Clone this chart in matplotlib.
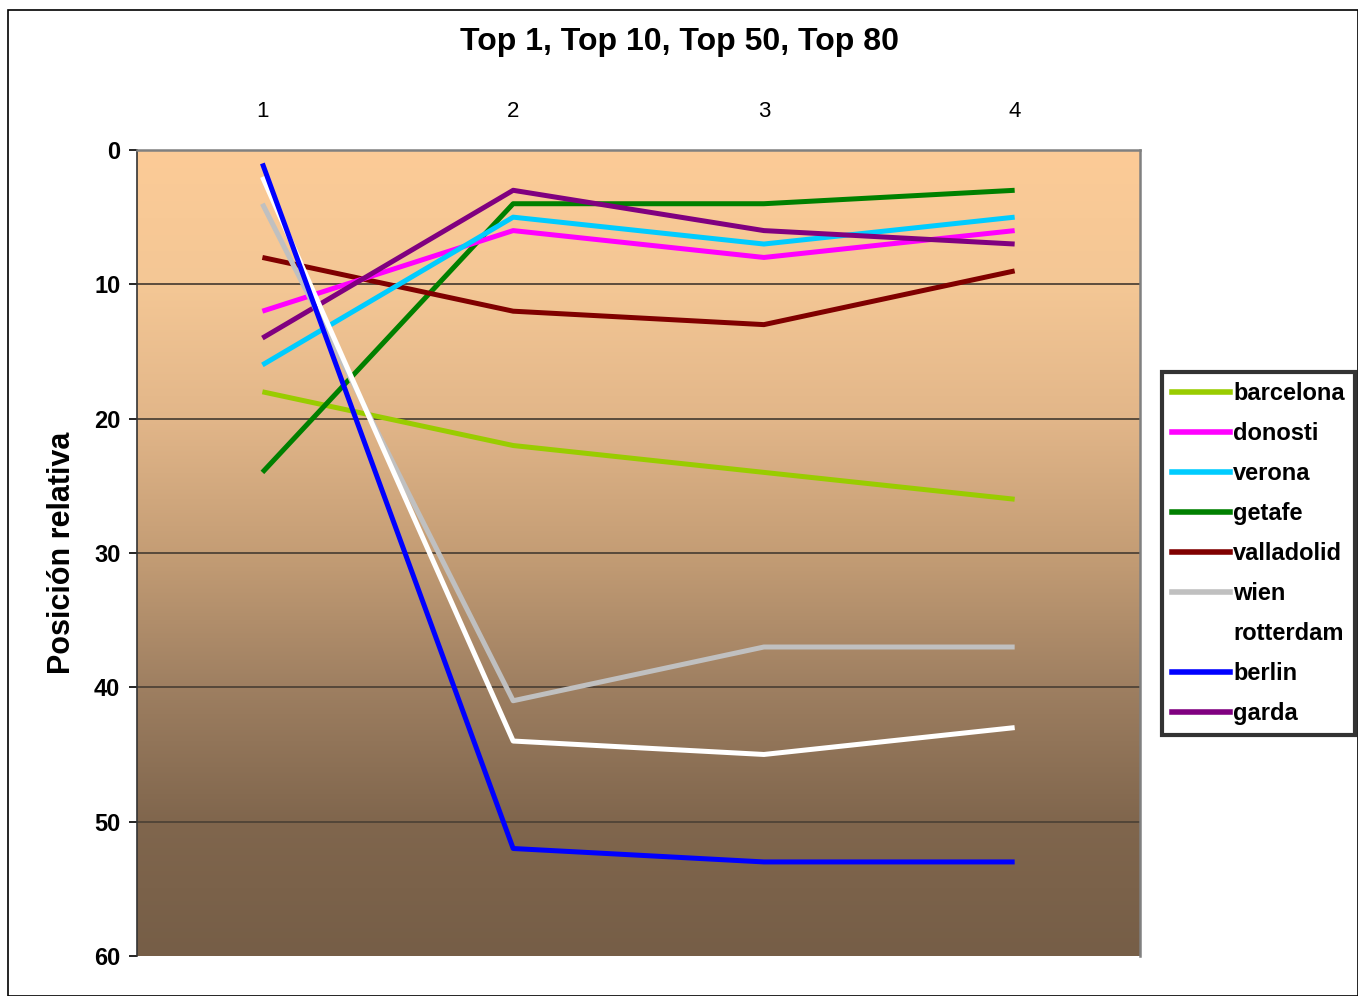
import numpy as np
import matplotlib
matplotlib.use("Agg")
from matplotlib import pyplot as plt
from matplotlib.patches import Rectangle

plt.rcParams['font.family'] = ['Liberation Sans', 'DejaVu Sans']

# data
steps = [1, 2, 3, 4]
barcelona = [18, 22, 24, 26]
donosti = [12, 6, 8, 6]
verona = [16, 5, 7, 5]
getafe = [24, 4, 4, 3]
valladolid = [8, 12, 13, 9]
wien = [4, 41, 37, 37]
rotterdam = [2, 44, 45, 43]
berlin = [1, 52, 53, 53]
garda = [14, 3, 6, 7]

series = [
    ("barcelona", barcelona, "#99CC00"),
    ("donosti", donosti, "#FF00FF"),
    ("verona", verona, "#00CCFF"),
    ("getafe", getafe, "#008000"),
    ("valladolid", valladolid, "#800000"),
    ("wien", wien, "#C0C0C0"),
    ("rotterdam", rotterdam, "#FFFFFF"),
    ("berlin", berlin, "#0000FF"),
    ("garda", garda, "#800080"),
]

fig = plt.figure(figsize=(13.58, 9.96), dpi=100)
ax = fig.add_axes([0.1009, 0.0402, 0.7386, 0.8092])

# background gradient, peach at top to brown at bottom (not linear)
stops = np.array([0, 10, 20, 30, 40, 50, 60]) / 60
stop_cols = np.array([
    [252, 203, 151],
    [244, 199, 149],
    [226, 182, 137],
    [196, 157, 117],
    [158, 127, 97],
    [128, 102, 77],
    [118, 94, 71],
]) / 255
t = np.linspace(0, 1, 400)
grad = np.stack([np.interp(t, stops, stop_cols[:, k]) for k in range(3)], axis=1)
ax.imshow(grad[:, None, :], extent=[0.5, 4.5, 60, 0], aspect='auto', zorder=0)

ax.set_xlim(0.5, 4.5)
ax.set_ylim(60, 0)

for y in [10, 20, 30, 40, 50]:
    ax.axhline(y, color="#4f4336", lw=1.3, zorder=1)

# draw order so blue sits on top like the original
for name, vals, col in [series[i] for i in [0, 3, 4, 1, 2, 8, 5, 6, 7]]:
    ax.plot(steps, vals, color=col, lw=3.6, zorder=3, solid_capstyle='butt')

ax.xaxis.tick_top()
ax.set_xticks(steps)
ax.set_xticklabels([str(s) for s in steps], fontsize=16)
ax.tick_params(axis='x', length=0, pad=20)
ax.set_yticks([0, 10, 20, 30, 40, 50, 60])
ax.set_yticklabels(["0", "10", "20", "30", "40", "50", "60"], fontsize=17, fontweight='bold')
ax.tick_params(axis='y', length=6, width=1.2, direction='out', pad=6)

ax.spines['bottom'].set_visible(False)
ax.spines['top'].set_color("#808080")
ax.spines['top'].set_linewidth(1.8)
ax.spines['right'].set_color("#808080")
ax.spines['right'].set_linewidth(1.8)
ax.spines['left'].set_color("#333333")
ax.spines['left'].set_linewidth(1.2)

ax.set_ylabel("Posición relativa", fontsize=22, fontweight='bold', labelpad=12)
fig.text(0.5, 0.958, "Top 1, Top 10, Top 50, Top 80", ha='center', va='center',
         fontsize=23, fontweight='bold')

# legend
handles = [plt.Line2D([], [], color=col, lw=4) for _, _, col in series]
labels = [name for name, _, _ in series]
leg = fig.legend(handles, labels, loc='upper left', bbox_to_anchor=(0.8557, 0.6265),
                 prop={'size': 17, 'weight': 'bold'}, frameon=True, fancybox=False,
                 edgecolor='black', handlelength=2.45, handletextpad=0.15,
                 labelspacing=0.72, borderpad=0.42, borderaxespad=0)
leg.get_frame().set_linewidth(3)

# outer chart border
fig.patches.append(Rectangle((0.006, 0.0), 0.994, 0.99, transform=fig.transFigure,
                             fill=False, edgecolor='black', lw=1.2))

fig.savefig("out.png", dpi=100)
